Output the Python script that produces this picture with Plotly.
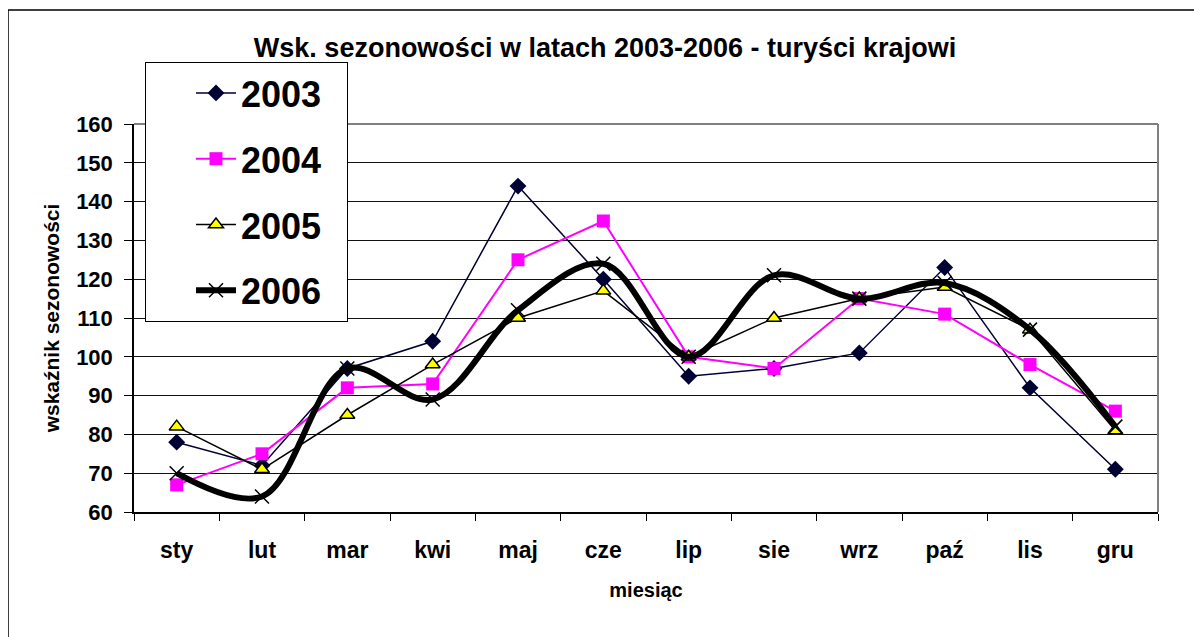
import plotly.graph_objects as go

months = ["sty", "lut", "mar", "kwi", "maj", "cze", "lip", "sie", "wrz", "paź", "lis", "gru"]
y2003 = [78, 72, 97, 104, 144, 120, 95, 97, 101, 123, 92, 71]
y2004 = [67, 75, 92, 93, 125, 135, 100, 97, 115, 111, 98, 86]
y2005 = [82, 71, 85, 98, 110, 117, 100, 110, 115, 118, 107, 81]
y2006 = [70, 64, 97, 89, 112, 124, 100, 121, 115, 119, 107, 82]
y_ticks = [60, 70, 80, 90, 100, 110, 120, 130, 140, 150, 160]

FONT = "Liberation Sans, Arial, sans-serif"
PAD = "\u00a0\u00a0"  # widens the legend box like the reference

# plot area in figure pixels (page body adds an 8px offset)
L, R, T, B = 126, 1150, 116, 504
W, H = 1202, 637
PW, PH = R - L, B - T


def px_x(px):
    return (px - L) / PW


def px_y(py):
    return (B - py) / PH


fig = go.Figure()
fig.add_trace(go.Scatter(
    x=months, y=y2003, name="2003" + PAD, mode="lines+markers", legendgroup="a",
    line=dict(color="#000033", width=1.5),
    marker=dict(symbol="diamond", size=13, color="#000033")))
fig.add_trace(go.Scatter(
    x=months, y=y2004, name="2004" + PAD, mode="lines+markers", legendgroup="b",
    line=dict(color="#FF00FF", width=2),
    marker=dict(symbol="square", size=13, color="#FF00FF")))
fig.add_trace(go.Scatter(
    x=months, y=y2005, name="2005" + PAD, mode="lines+markers", legendgroup="c",
    line=dict(color="#000000", width=1.5),
    marker=dict(symbol="triangle-up", size=13, color="#FFFF00",
                line=dict(color="#000000", width=1.5))))
fig.add_trace(go.Scatter(
    x=months, y=y2006, name="2006" + PAD, mode="lines+markers", legendgroup="d",
    line=dict(color="#000000", width=6, shape="spline", smoothing=1),
    marker=dict(symbol="x-thin", size=14, color="#000000",
                line=dict(color="#000000", width=1.5))))

fig.update_layout(
    width=W, height=H, autosize=False,
    margin=dict(l=L, r=W - R, t=T, b=H - B, autoexpand=False),
    paper_bgcolor="white", plot_bgcolor="white",
    font=dict(family=FONT, color="black"),
    title=dict(text="<b>Wsk. sezonowości w latach 2003-2006 - turyści krajowi</b>",
               x=597 / W, xref="container", xanchor="center",
               y=1 - 40 / H, yref="container", yanchor="middle",
               font=dict(size=27, family=FONT, color="black")),
    showlegend=True,
    legend=dict(x=px_x(137), y=px_y(54), xanchor="left", yanchor="top",
                bgcolor="white", bordercolor="black", borderwidth=1,
                font=dict(size=36, family=FONT, color="black", weight="bold"),
                tracegroupgap=16, indentation=45, itemwidth=40),
    xaxis=dict(
        type="category", range=[-0.5, 11.5],
        showline=True, linecolor="black", linewidth=1.5,
        ticks="outside", ticklen=7, tickcolor="black", tickwidth=1,
        tickson="boundaries", showgrid=False, ticklabelstandoff=17,
        tickfont=dict(size=23, family=FONT, color="black", weight="bold"),
        title=dict(text="<b>miesiąc</b>", standoff=21,
                   font=dict(size=20, family=FONT, color="black")),
        automargin=False, fixedrange=True),
    yaxis=dict(
        range=[60, 160], tickvals=y_ticks,
        showline=True, linecolor="black", linewidth=1.5,
        ticks="outside", ticklen=8, tickcolor="black", tickwidth=1,
        showgrid=True, gridcolor="#111111", gridwidth=1, zeroline=False,
        ticklabelstandoff=7,
        tickfont=dict(size=22, family=FONT, color="black", weight="bold"),
        title=dict(text="<b>wskaźnik sezonowości</b>", standoff=11,
                   font=dict(size=21, family=FONT, color="black")),
        automargin=False, fixedrange=True),
    shapes=[
        # outer chart frame (extends beyond the visible page at right/bottom)
        dict(type="rect", xref="paper", yref="paper",
             x0=px_x(0), x1=px_x(1230), y0=px_y(680), y1=px_y(2),
             line=dict(color="black", width=1.5), layer="below"),
        # gray plot-area border (top and right)
        dict(type="line", xref="paper", yref="paper", x0=0, x1=1, y0=1, y1=1,
             line=dict(color="#808080", width=2), layer="above"),
        dict(type="line", xref="paper", yref="paper", x0=1, x1=1, y0=0, y1=1,
             line=dict(color="#808080", width=2), layer="above"),
    ],
)

fig.write_html("out.html")
